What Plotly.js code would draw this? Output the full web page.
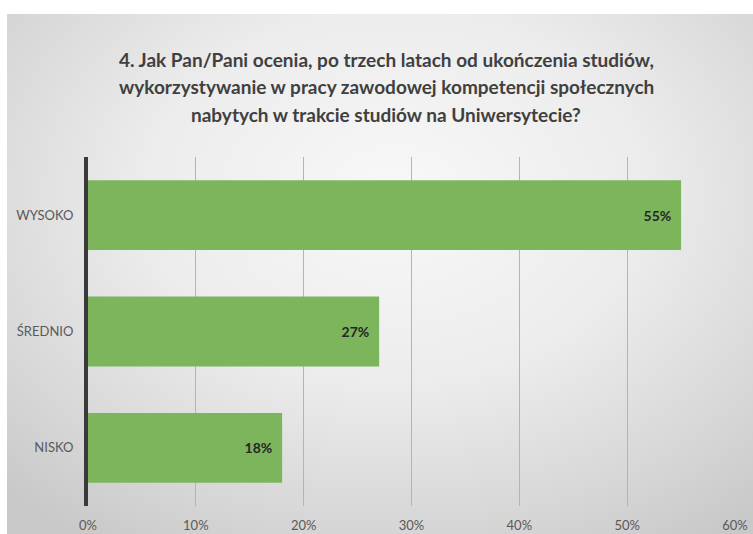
<!DOCTYPE html>
<html>
<head>
<meta charset="utf-8">
<script src="https://cdn.plot.ly/plotly-3.0.1.min.js"></script>
<style>
  html, body { margin: 0; padding: 0; background: #ffffff; width: 753px; height: 534px; overflow: hidden; }
  #bg { position: absolute; left: 7px; top: 14px; width: 746px; height: 520px;
        background: radial-gradient(ellipse 75% 80% at 52% 35%, #f8f8f8 0%, #ececec 45%, #d6d6d6 80%, #c8c8c8 100%); }
  #chart { position: absolute; left: 0; top: 0; width: 753px; height: 534px; }
</style>
</head>
<body>
<div id="bg"></div>
<div id="chart"></div>
<script>
// Data
const categories = ["NISKO", "ŚREDNIO", "WYSOKO"];
const values = [18, 27, 55];
const valueLabels = ["18%", "27%", "55%"];
const xTickVals = [0, 10, 20, 30, 40, 50, 60];
const titleLines = [
  "4. Jak Pan/Pani ocenia, po trzech latach od ukończenia studiów,",
  "wykorzystywanie w pracy zawodowej kompetencji społecznych",
  "nabytych w trakcie studiów na Uniwersytecie?"
];

const FONT = "Lato, 'Open Sans', sans-serif";

const trace = {
  type: "bar",
  orientation: "h",
  y: categories,
  x: values,
  text: valueLabels,
  texttemplate: "%{text}\u00a0\u00a0",
  textposition: "inside",
  insidetextanchor: "end",
  textfont: { family: FONT, size: 14, color: "#262626", weight: "bold" },
  marker: { color: "#7db55c", line: { width: 0 } },
  hoverinfo: "none",
  cliponaxis: false
};

const titleYs = [60, 87, 114];
const annotations = titleLines.map((t, i) => ({
  text: "<b>" + t + "</b>",
  xref: "paper", yref: "paper",
  x: 0.461, y: 1 - (titleYs[i] - 157) / 349,
  xanchor: "center", yanchor: "middle",
  showarrow: false,
  font: { family: FONT, size: 19, color: "#404040" }
}));

const layout = {
  width: 753, height: 534,
  margin: { l: 88, r: 18, t: 157, b: 28 },
  paper_bgcolor: "rgba(0,0,0,0)",
  plot_bgcolor: "rgba(0,0,0,0)",
  showlegend: false,
  bargap: 0.40,
  xaxis: {
    range: [0, 60],
    tickvals: xTickVals,
    ticktext: xTickVals.map(v => v + "%"),
    showgrid: true, gridcolor: "#b4b4b4", gridwidth: 1,
    zeroline: false, showline: false,
    ticks: "", ticklabelstandoff: 10,
    tickfont: { family: FONT, size: 13, color: "#595959" },
    fixedrange: true
  },
  yaxis: {
    showgrid: false, zeroline: false,
    showline: true, linecolor: "#3a3a3a", linewidth: 4,
    ticks: "", ticklabelstandoff: 8,
    tickfont: { family: FONT, size: 13, color: "#595959" },
    fixedrange: true
  },
  annotations: annotations
};

Plotly.newPlot("chart", [trace], layout, { staticPlot: true, displayModeBar: false });
</script>
</body>
</html>
